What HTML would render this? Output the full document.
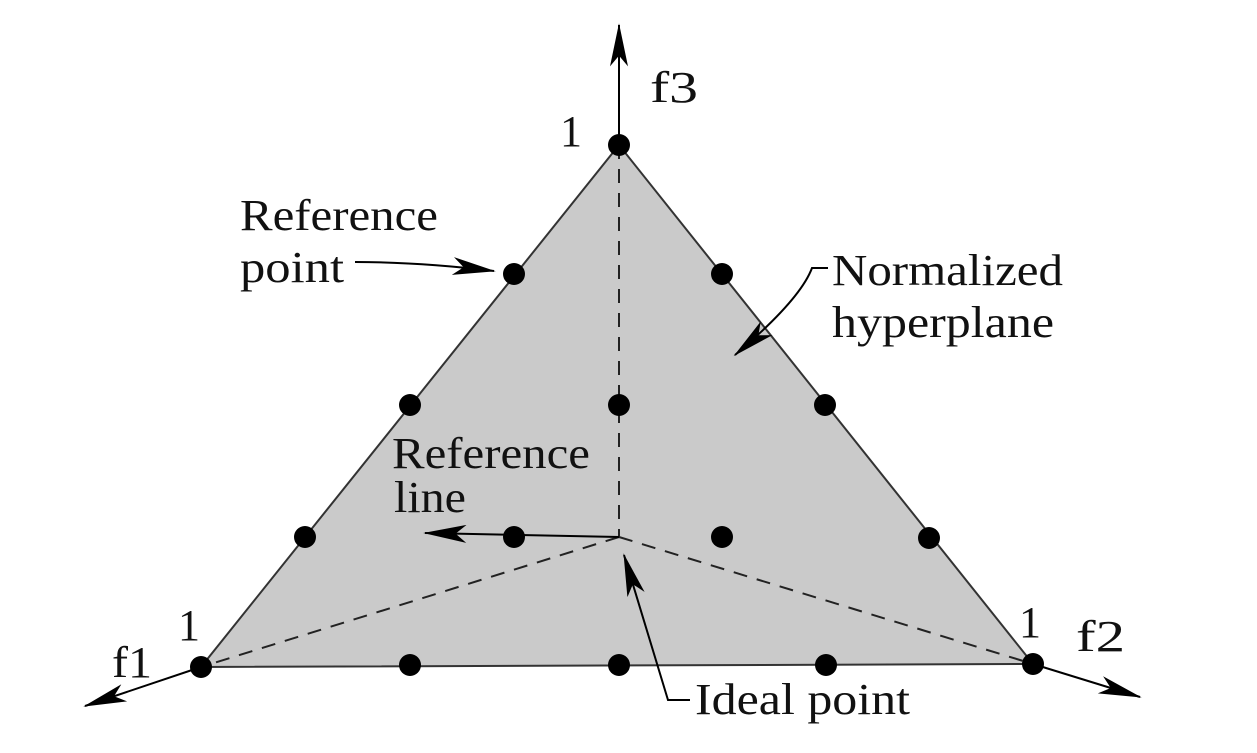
<!DOCTYPE html>
<html><head><style>body{margin:0;background:#fff}svg{display:block}</style></head><body>
<svg width="1257" height="753" viewBox="0 0 1257 753" xmlns="http://www.w3.org/2000/svg" font-family="Liberation Serif, serif" font-size="44" fill="#111">
<defs><marker id="a" viewBox="0 0 24 10" refX="23" refY="5" markerWidth="44" markerHeight="18" markerUnits="userSpaceOnUse" orient="auto"><path d="M0,0 L24,5 L0,10 L6,5z" fill="#000"/></marker></defs>
<polygon points="619,145 201,667 1033,664" fill="#cacaca" stroke="#333" stroke-width="2"/>
<g stroke="#222" stroke-width="2" stroke-dasharray="14,10" fill="none">
<line x1="619" y1="145" x2="619" y2="537"/>
<line x1="619" y1="537" x2="201" y2="667"/>
<line x1="619" y1="537" x2="1033" y2="664"/>
</g>
<g stroke="#000" stroke-width="2" fill="none">
<line x1="619" y1="145" x2="619" y2="25" marker-end="url(#a)"/>
<line x1="201" y1="667" x2="85" y2="706" marker-end="url(#a)"/>
<line x1="1033" y1="664" x2="1140" y2="697" marker-end="url(#a)"/>
<line x1="619" y1="537" x2="425" y2="533" marker-end="url(#a)"/>
<polyline points="690,700 668,700 624,555" marker-end="url(#a)"/>
<path d="M355,262 Q420,262 494,271" marker-end="url(#a)"/>
<path d="M828,268 L812,268 Q800,300 735,355" marker-end="url(#a)"/>
</g>
<g fill="#000">
<circle cx="201" cy="667" r="11"/><circle cx="305" cy="537" r="11"/><circle cx="410" cy="405" r="11"/><circle cx="514" cy="274" r="11"/><circle cx="619" cy="145" r="11"/>
<circle cx="1033" cy="664" r="11"/><circle cx="929" cy="538" r="11"/><circle cx="825" cy="405" r="11"/><circle cx="722" cy="274" r="11"/>
<circle cx="410" cy="665" r="11"/><circle cx="619" cy="665" r="11"/><circle cx="826" cy="665" r="11"/>
<circle cx="619" cy="405" r="11"/><circle cx="514" cy="537" r="11"/><circle cx="722" cy="537" r="11"/>
</g>
<text x="650" y="102" textLength="48" lengthAdjust="spacingAndGlyphs">f3</text>
<text x="560" y="146">1</text>
<text x="112" y="677" textLength="40" lengthAdjust="spacingAndGlyphs">f1</text>
<text x="178" y="640">1</text>
<text x="1076" y="651" textLength="49" lengthAdjust="spacingAndGlyphs">f2</text>
<text x="1019" y="637">1</text>
<text x="240" y="230" textLength="198" lengthAdjust="spacingAndGlyphs">Reference</text>
<text x="240" y="282" textLength="104" lengthAdjust="spacingAndGlyphs">point</text>
<text x="832" y="285" textLength="231" lengthAdjust="spacingAndGlyphs">Normalized</text>
<text x="832" y="337" textLength="222" lengthAdjust="spacingAndGlyphs">hyperplane</text>
<text x="392" y="468" textLength="198" lengthAdjust="spacingAndGlyphs">Reference</text>
<text x="394" y="512" textLength="72" lengthAdjust="spacingAndGlyphs">line</text>
<text x="695" y="714" textLength="215" lengthAdjust="spacingAndGlyphs">Ideal point</text>
</svg>
</body></html>
